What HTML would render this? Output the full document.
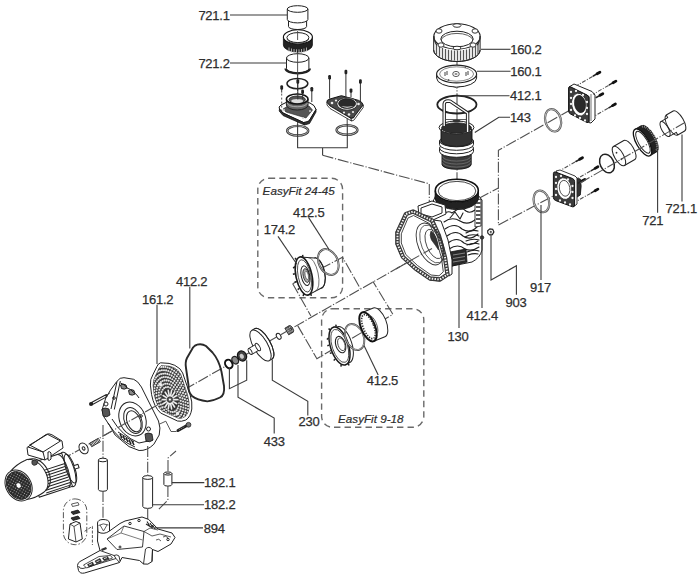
<!DOCTYPE html>
<html><head><meta charset="utf-8">
<style>
html,body{margin:0;padding:0;background:#fff;width:700px;height:582px;overflow:hidden}
svg{display:block}
.t{font-family:"Liberation Sans",sans-serif;font-size:13px;fill:#2e2e2e;stroke:#2e2e2e;stroke-width:0.25px;letter-spacing:-0.25px}
.it{font-family:"Liberation Sans",sans-serif;font-size:11.7px;font-style:italic;fill:#2e2e2e;stroke:#2e2e2e;stroke-width:0.2px}
.ld{fill:none;stroke:#3a3a3a;stroke-width:1.1}
.dd{fill:none;stroke:#505050;stroke-width:1.1;stroke-dasharray:11 1.8 1.2 1.8}
.bx{fill:none;stroke:#6a6a6a;stroke-width:1.4;stroke-dasharray:6.4 4.1}
.p{fill:#fff;stroke:#222;stroke-width:1}
.pn{fill:none;stroke:#222;stroke-width:1}
.dk{fill:#333;stroke:#111;stroke-width:0.8}
</style></head>
<body>
<svg width="700" height="582" viewBox="0 0 700 582">
<!-- LABELS -->
<g id="labels">
<text class="t" x="198.4" y="20">721.1</text>
<text class="t" x="198.4" y="68">721.2</text>
<text class="t" x="510.2" y="53.8">160.2</text>
<text class="t" x="510.2" y="76.3">160.1</text>
<text class="t" x="510.1" y="99.8">412.1</text>
<text class="t" x="509.9" y="122">143</text>
<text class="t" x="665.6" y="212.7">721.1</text>
<text class="t" x="642.3" y="224.5">721</text>
<text class="t" x="530" y="292">917</text>
<text class="t" x="505.5" y="306.7">903</text>
<text class="t" x="466.6" y="320">412.4</text>
<text class="t" x="447.6" y="340.6">130</text>
<text class="t" x="176" y="286">412.2</text>
<text class="t" x="142" y="303.5">161.2</text>
<text class="t" x="293.1" y="217.4">412.5</text>
<text class="t" x="263.8" y="234.2">174.2</text>
<text class="t" x="366.8" y="384.8">412.5</text>
<text class="t" x="298.6" y="426">230</text>
<text class="t" x="263.8" y="446">433</text>
<text class="t" x="204.1" y="487">182.1</text>
<text class="t" x="204.1" y="508.5">182.2</text>
<text class="t" x="203.7" y="532.7">894</text>
<text class="it" x="262.6" y="195.3">EasyFit 24-45</text>
<text class="it" x="338" y="423.3">EasyFit 9-18</text>
</g>
<!-- EasyFit boxes -->
<rect class="bx" x="257.8" y="178.3" width="84.8" height="119.5" rx="11"/>
<rect class="bx" x="321.6" y="308.7" width="102.2" height="118.6" rx="11"/>

<!-- AXES dash-dot -->
<g id="axes" class="dd">
<path d="M20 483.5L420 255.2"/>
<path d="M322.6 155.3L429.3 183.8V215"/>
<path d="M571 109.6L498.4 150.3V225L560 192.4"/>
<path d="M478.6 198.4L498.4 188.1"/>
<path d="M292.7 283.7L342.5 257.2L360.3 288.5M292.7 283.7L310.9 316"/>
<path d="M297.7 325.6L316.9 358.7L392.9 314.3L372.9 281.4"/>
<path d="M297.6 27V124M347.2 118V124" style="stroke-dasharray:30 1.5 1 1.5"/>
<path d="M457 30V180"/>
</g>

<defs>
<pattern id="grid" width="2.6" height="2.6" patternUnits="userSpaceOnUse" patternTransform="rotate(-30)">
<rect width="2.6" height="2.6" fill="#252525"/><rect x="0.7" y="0.7" width="1.1" height="1.1" fill="#aaa"/>
</pattern>
<pattern id="grid2" width="3.2" height="3.2" patternUnits="userSpaceOnUse" patternTransform="rotate(25)">
<rect width="3.2" height="3.2" fill="#333"/><rect x="0.7" y="0.7" width="1.7" height="1.7" fill="#ddd"/>
</pattern>
<pattern id="knurl" width="2" height="4" patternUnits="userSpaceOnUse">
<rect width="2" height="4" fill="#222"/><rect x="1.2" width="0.6" height="4" fill="#888"/>
</pattern>
<pattern id="dots" width="3" height="3" patternUnits="userSpaceOnUse">
<rect width="3" height="3" fill="#444"/><circle cx="1.5" cy="1.5" r="0.7" fill="#ccc"/>
</pattern>
</defs>
<!-- MOTOR -->
<g id="motor" stroke-linejoin="round">
 <g transform="translate(18.6,485.5) rotate(-18)">
  <ellipse class="p" cx="52" cy="0" rx="6" ry="18"/>
  <path class="p" d="M16 -17.5 H51 V17.5 H16 Z"/>
  <path class="pn" d="M23 -1H50M23 1.8H50M23 4.6H50M23 7.4H50M23 10.2H50M23 13H50M24 15.6H50M25 -3.8H50M27 -6.6H50" stroke-width="0.75"/>
  <path class="pn" d="M47 -17 A5 17 0 0 1 47 17"/>
  <ellipse class="pn" cx="54.5" cy="0" rx="4.5" ry="15"/>
  <path class="p" d="M58.5 -1.8 H63 V1.8 H58.5Z"/>
 </g>
 <g transform="translate(18.6,485.5) rotate(-30)">
  <path class="p" d="M0 -16.3 Q9 -19.5 18 -18.5 A12 18.5 0 0 1 18 18.5 Q9 19.5 0 16.3 Z"/>
  <path class="pn" d="M21 -17.5 A12 17.5 0 0 1 21 17.5"/>
  <ellipse class="p" cx="0" cy="0" rx="12.6" ry="16.3"/>
  <ellipse cx="0" cy="0" rx="11.4" ry="14.8" fill="url(#grid)" stroke="#222" stroke-width="0.8"/>
  <ellipse cx="0" cy="0" rx="2.4" ry="3" fill="#fff" stroke="#222" stroke-width="0.7"/>
 </g>
 <path class="p" d="M27 447.5 L46 434.5 Q49 433 52 434.8 L62 441 L63 448 L45 460 L28 455 Z"/>
 <path class="pn" d="M29.5 445 L47.5 434.3 L60.5 441 L43 452 Z"/>
 <path class="pn" d="M43 452 L45 460 M28 447 L43 452"/>
 <path class="p" d="M48 452 q2 -1 3 1 v6 q-1 2 -3 1z"/>
 <path d="M32 461 q3 -2.5 5.5 0.5 q0.5 3.5 -3 3.8 q-3.2 0 -2.5 -4.3z" fill="#555" stroke="#222" stroke-width="0.8"/>
</g>

<!-- WASHER SPRING -->
<g id="washer">
 <ellipse class="p" cx="83.6" cy="448.4" rx="4.2" ry="5.8" transform="rotate(-30 83.6 448.4)"/>
 <ellipse class="p" cx="83.6" cy="448.4" rx="1.3" ry="1.8" transform="rotate(-30 83.6 448.4)"/>
 <g transform="translate(95,442.5) rotate(-30)">
  <rect x="-5" y="-2" width="10" height="4" fill="#fff" stroke="#222" stroke-width="0.8"/>
  <path d="M-4 -2V2M-2.5 -2V2M-1 -2V2M0.5 -2V2M2 -2V2M3.5 -2V2" stroke="#333" stroke-width="0.8"/>
 </g>
</g>
<!-- LANTERN -->
<g id="lantern" stroke-linejoin="round">
 <path class="p" d="M116.7 381.6 Q120 377 124 377.7 L133.7 379.3 Q138 381 141.4 387 L148.4 401 L158.5 421 Q161 428 159.2 435 L153.8 444.3 Q147 451 139.1 450.5 L129 446.6 L115.1 435 L109.7 425.7 L104 417 L102 410 L105.8 397.9 L110.5 390.1 Z"/>
 <path class="pn" d="M117 381.5 L111 409 M120.3 381 L114.3 409.5"/>
 <path d="M120.5 385 q2.5 -2 5.5 0 l1 3 q-2.5 2 -5.5 0.5z M128.5 390.5 q2.5 -2 5.5 0 l1 3.5 q-2.5 2 -5.5 0.5z" fill="#888" stroke="#111" stroke-width="0.9"/>
 <path class="pn" d="M108 423 Q118 440 135 447 M112 419 Q122 436 139 443 L153 440"/>
 <path class="pn" d="M120.5 383 Q126 385 127 388 Q131 389 133 392 Q137 394 139 398"/>
 <ellipse class="p" cx="132.5" cy="419" rx="13" ry="17.5" transform="rotate(-22 132.5 419)"/>
 <ellipse class="p" cx="133" cy="420.5" rx="8.5" ry="13.5" transform="rotate(-22 133 420.5)"/>
 <ellipse class="pn" cx="133.8" cy="421.3" rx="6.6" ry="11" transform="rotate(-22 133.8 421.3)"/>
 <!-- slots bottom -->
 <path d="M120 434l2 4M123 436l2 4M126 438l2 4M129 440l2 4M132 441l2 4" stroke="#222" stroke-width="1.6"/>
 <path class="pn" d="M118 432 L134 442"/>
 <!-- feet -->
 <path d="M102 409 q3 -2 7 0 l1 6 q-3 3 -7 1 z" fill="#555" stroke="#111" stroke-width="0.8"/>
 <circle cx="106" cy="404" r="2" class="p"/>
 <path d="M145 434 q3 -2 7 0 l1 6 q-3 3 -7 1 z" fill="#555" stroke="#111" stroke-width="0.8"/>
 <circle cx="148.5" cy="429" r="2" class="p"/>
 <circle cx="114" cy="398" r="1.3" class="pn"/>
 <circle cx="141" cy="416" r="1.3" class="pn"/>
</g>
<!-- screws lantern -->
<g id="lscrews">
 <path d="M92 403.5 L106 395.8" stroke="#222" stroke-width="3.2" stroke-linecap="round"/>
 <path d="M93 403 L105.5 396.2" stroke="#fff" stroke-width="1.2"/>
 <path d="M106 395.8 L110 392.8" stroke="#333" stroke-width="0.9"/>
 <circle cx="91" cy="404" r="2" fill="#222"/>
 <path d="M178 430.5 L186.5 425.8" stroke="#222" stroke-width="3" stroke-linecap="round"/>
 <path d="M179 430 l1 -1.2 M181 429 l1 -1.2 M183 427.8 l1 -1.2" stroke="#999" stroke-width="0.7"/>
 <circle cx="188.5" cy="424.8" r="2.4" fill="#777" stroke="#222" stroke-width="0.8"/>
 <path d="M176.6 431.5 L171 431.5 L165.8 421.2 L159 424.3" fill="none" stroke="#444" stroke-width="0.9"/>
</g>
<!-- FAN 161.2 -->
<g id="fan" stroke-linejoin="round">
 <clipPath id="fanclip"><path d="M161 365.8 L169 366.2 Q174 367 178 370.5 Q181 373.5 182.5 380 L187.5 395 Q189.5 402 189 408.5 Q188 414.5 184.5 417 Q181 418.8 178 418 L162 410.8 Q156.5 405.5 154.2 394 L153.2 385.5 Q153 380 155.5 376 L159 368.5 Z"/></clipPath>
 <path d="M160.6 362.8 L169.1 363.4 Q175 364.5 179.9 368.8 Q183 372 184.7 379.1 L190.1 394.7 Q192.5 402 191.8 409 Q190.5 417 185.9 420 Q181 422 177.5 421 L160.6 413 Q154 407 151.6 394.7 L150.4 385.1 Q150 379 152.8 374.9 L157 366.4 Q158 363.5 160.6 362.8 Z" fill="#fff" stroke="#222" stroke-width="1"/>
 <path d="M161 365.8 L169 366.2 Q174 367 178 370.5 Q181 373.5 182.5 380 L187.5 395 Q189.5 402 189 408.5 Q188 414.5 184.5 417 Q181 418.8 178 418 L162 410.8 Q156.5 405.5 154.2 394 L153.2 385.5 Q153 380 155.5 376 L159 368.5 Z" fill="#3c3c3c" stroke="#222" stroke-width="0.8"/>
 <g clip-path="url(#fanclip)" fill="#e8e8e8"><circle cx="177.5" cy="396.8" r="1.05"/><circle cx="178.3" cy="400.0" r="1.05"/><circle cx="178.7" cy="403.1" r="1.05"/><circle cx="178.5" cy="406.0" r="1.05"/><circle cx="177.7" cy="408.4" r="1.05"/><circle cx="176.5" cy="410.4" r="1.05"/><circle cx="174.8" cy="411.6" r="1.05"/><circle cx="172.8" cy="412.1" r="1.05"/><circle cx="170.7" cy="411.8" r="1.05"/><circle cx="168.5" cy="410.8" r="1.05"/><circle cx="166.4" cy="409.0" r="1.05"/><circle cx="164.5" cy="406.7" r="1.05"/><circle cx="162.9" cy="403.9" r="1.05"/><circle cx="161.8" cy="400.8" r="1.05"/><circle cx="161.2" cy="397.7" r="1.05"/><circle cx="161.2" cy="394.6" r="1.05"/><circle cx="161.6" cy="391.9" r="1.05"/><circle cx="162.7" cy="389.7" r="1.05"/><circle cx="164.1" cy="388.1" r="1.05"/><circle cx="165.9" cy="387.2" r="1.05"/><circle cx="168.0" cy="387.1" r="1.05"/><circle cx="170.2" cy="387.8" r="1.05"/><circle cx="172.4" cy="389.2" r="1.05"/><circle cx="174.4" cy="391.3" r="1.05"/><circle cx="176.1" cy="393.9" r="1.05"/><circle cx="180.0" cy="397.6" r="1.05"/><circle cx="180.7" cy="400.8" r="1.05"/><circle cx="181.0" cy="403.8" r="1.05"/><circle cx="180.9" cy="406.7" r="1.05"/><circle cx="180.4" cy="409.4" r="1.05"/><circle cx="179.4" cy="411.6" r="1.05"/><circle cx="178.1" cy="413.4" r="1.05"/><circle cx="176.5" cy="414.7" r="1.05"/><circle cx="174.6" cy="415.4" r="1.05"/><circle cx="172.5" cy="415.5" r="1.05"/><circle cx="170.3" cy="414.9" r="1.05"/><circle cx="168.2" cy="413.8" r="1.05"/><circle cx="166.0" cy="412.1" r="1.05"/><circle cx="164.1" cy="410.0" r="1.05"/><circle cx="162.3" cy="407.4" r="1.05"/><circle cx="160.9" cy="404.6" r="1.05"/><circle cx="159.8" cy="401.6" r="1.05"/><circle cx="159.1" cy="398.4" r="1.05"/><circle cx="158.8" cy="395.4" r="1.05"/><circle cx="158.9" cy="392.5" r="1.05"/><circle cx="159.4" cy="389.8" r="1.05"/><circle cx="160.4" cy="387.6" r="1.05"/><circle cx="161.7" cy="385.8" r="1.05"/><circle cx="163.3" cy="384.5" r="1.05"/><circle cx="165.2" cy="383.8" r="1.05"/><circle cx="167.3" cy="383.7" r="1.05"/><circle cx="169.5" cy="384.3" r="1.05"/><circle cx="171.6" cy="385.4" r="1.05"/><circle cx="173.8" cy="387.1" r="1.05"/><circle cx="175.7" cy="389.2" r="1.05"/><circle cx="177.5" cy="391.8" r="1.05"/><circle cx="178.9" cy="394.6" r="1.05"/><circle cx="181.6" cy="395.4" r="1.05"/><circle cx="182.5" cy="398.4" r="1.05"/><circle cx="183.1" cy="401.5" r="1.05"/><circle cx="183.4" cy="404.6" r="1.05"/><circle cx="183.3" cy="407.5" r="1.05"/><circle cx="182.9" cy="410.2" r="1.05"/><circle cx="182.1" cy="412.7" r="1.05"/><circle cx="181.1" cy="414.8" r="1.05"/><circle cx="179.7" cy="416.5" r="1.05"/><circle cx="178.1" cy="417.7" r="1.05"/><circle cx="176.3" cy="418.5" r="1.05"/><circle cx="174.3" cy="418.9" r="1.05"/><circle cx="172.2" cy="418.7" r="1.05"/><circle cx="170.0" cy="418.0" r="1.05"/><circle cx="167.8" cy="416.8" r="1.05"/><circle cx="165.7" cy="415.2" r="1.05"/><circle cx="163.7" cy="413.2" r="1.05"/><circle cx="161.9" cy="410.9" r="1.05"/><circle cx="160.2" cy="408.2" r="1.05"/><circle cx="158.8" cy="405.3" r="1.05"/><circle cx="157.7" cy="402.3" r="1.05"/><circle cx="156.9" cy="399.2" r="1.05"/><circle cx="156.5" cy="396.1" r="1.05"/><circle cx="156.4" cy="393.1" r="1.05"/><circle cx="156.6" cy="390.3" r="1.05"/><circle cx="157.2" cy="387.7" r="1.05"/><circle cx="158.1" cy="385.4" r="1.05"/><circle cx="159.4" cy="383.5" r="1.05"/><circle cx="160.9" cy="382.0" r="1.05"/><circle cx="162.6" cy="381.0" r="1.05"/><circle cx="164.5" cy="380.4" r="1.05"/><circle cx="166.6" cy="380.4" r="1.05"/><circle cx="168.7" cy="380.8" r="1.05"/><circle cx="170.9" cy="381.7" r="1.05"/><circle cx="173.0" cy="383.1" r="1.05"/><circle cx="175.1" cy="384.9" r="1.05"/><circle cx="177.0" cy="387.1" r="1.05"/><circle cx="178.8" cy="389.6" r="1.05"/><circle cx="180.3" cy="392.4" r="1.05"/><circle cx="184.1" cy="396.1" r="1.05"/><circle cx="184.9" cy="399.2" r="1.05"/><circle cx="185.5" cy="402.3" r="1.05"/><circle cx="185.8" cy="405.3" r="1.05"/><circle cx="185.7" cy="408.3" r="1.05"/><circle cx="185.4" cy="411.0" r="1.05"/><circle cx="184.8" cy="413.6" r="1.05"/><circle cx="183.9" cy="415.9" r="1.05"/><circle cx="182.7" cy="417.9" r="1.05"/><circle cx="181.3" cy="419.5" r="1.05"/><circle cx="179.7" cy="420.8" r="1.05"/><circle cx="177.9" cy="421.7" r="1.05"/><circle cx="176.0" cy="422.2" r="1.05"/><circle cx="173.9" cy="422.2" r="1.05"/><circle cx="171.8" cy="421.8" r="1.05"/><circle cx="169.7" cy="421.1" r="1.05"/><circle cx="167.5" cy="419.9" r="1.05"/><circle cx="165.4" cy="418.3" r="1.05"/><circle cx="163.3" cy="416.4" r="1.05"/><circle cx="161.4" cy="414.2" r="1.05"/><circle cx="159.7" cy="411.7" r="1.05"/><circle cx="158.1" cy="409.0" r="1.05"/><circle cx="156.8" cy="406.1" r="1.05"/><circle cx="155.7" cy="403.1" r="1.05"/><circle cx="154.9" cy="400.0" r="1.05"/><circle cx="154.3" cy="396.9" r="1.05"/><circle cx="154.0" cy="393.9" r="1.05"/><circle cx="154.1" cy="390.9" r="1.05"/><circle cx="154.4" cy="388.2" r="1.05"/><circle cx="155.0" cy="385.6" r="1.05"/><circle cx="155.9" cy="383.3" r="1.05"/><circle cx="157.1" cy="381.3" r="1.05"/><circle cx="158.5" cy="379.7" r="1.05"/><circle cx="160.1" cy="378.4" r="1.05"/><circle cx="161.9" cy="377.5" r="1.05"/><circle cx="163.8" cy="377.0" r="1.05"/><circle cx="165.9" cy="377.0" r="1.05"/><circle cx="168.0" cy="377.4" r="1.05"/><circle cx="170.1" cy="378.1" r="1.05"/><circle cx="172.3" cy="379.3" r="1.05"/><circle cx="174.4" cy="380.9" r="1.05"/><circle cx="176.5" cy="382.8" r="1.05"/><circle cx="178.4" cy="385.0" r="1.05"/><circle cx="180.1" cy="387.5" r="1.05"/><circle cx="181.7" cy="390.2" r="1.05"/><circle cx="183.0" cy="393.1" r="1.05"/><circle cx="185.6" cy="393.9" r="1.05"/><circle cx="186.6" cy="396.9" r="1.05"/><circle cx="187.4" cy="400.0" r="1.05"/><circle cx="187.9" cy="403.1" r="1.05"/><circle cx="188.1" cy="406.1" r="1.05"/><circle cx="188.1" cy="409.0" r="1.05"/><circle cx="187.8" cy="411.8" r="1.05"/><circle cx="187.3" cy="414.5" r="1.05"/><circle cx="186.6" cy="416.9" r="1.05"/><circle cx="185.6" cy="419.1" r="1.05"/><circle cx="184.4" cy="421.0" r="1.05"/><circle cx="183.0" cy="422.6" r="1.05"/><circle cx="181.4" cy="423.8" r="1.05"/><circle cx="179.6" cy="424.8" r="1.05"/><circle cx="177.7" cy="425.4" r="1.05"/><circle cx="175.7" cy="425.6" r="1.05"/><circle cx="173.6" cy="425.5" r="1.05"/><circle cx="171.5" cy="425.0" r="1.05"/><circle cx="169.3" cy="424.1" r="1.05"/><circle cx="167.2" cy="422.9" r="1.05"/><circle cx="165.0" cy="421.4" r="1.05"/><circle cx="163.0" cy="419.5" r="1.05"/><circle cx="161.1" cy="417.4" r="1.05"/><circle cx="159.2" cy="415.1" r="1.05"/><circle cx="157.6" cy="412.5" r="1.05"/><circle cx="156.1" cy="409.7" r="1.05"/><circle cx="154.7" cy="406.8" r="1.05"/><circle cx="153.7" cy="403.8" r="1.05"/><circle cx="152.8" cy="400.7" r="1.05"/><circle cx="152.2" cy="397.7" r="1.05"/><circle cx="151.8" cy="394.6" r="1.05"/><circle cx="151.7" cy="391.6" r="1.05"/><circle cx="151.8" cy="388.8" r="1.05"/><circle cx="152.2" cy="386.0" r="1.05"/><circle cx="152.8" cy="383.5" r="1.05"/><circle cx="153.7" cy="381.2" r="1.05"/><circle cx="154.8" cy="379.2" r="1.05"/><circle cx="156.1" cy="377.4" r="1.05"/><circle cx="157.6" cy="376.0" r="1.05"/><circle cx="159.3" cy="374.8" r="1.05"/><circle cx="161.1" cy="374.1" r="1.05"/><circle cx="163.1" cy="373.7" r="1.05"/><circle cx="165.1" cy="373.6" r="1.05"/><circle cx="167.3" cy="373.9" r="1.05"/><circle cx="169.4" cy="374.6" r="1.05"/><circle cx="171.6" cy="375.6" r="1.05"/><circle cx="173.7" cy="377.0" r="1.05"/><circle cx="175.8" cy="378.7" r="1.05"/><circle cx="177.8" cy="380.7" r="1.05"/><circle cx="179.7" cy="382.9" r="1.05"/><circle cx="181.4" cy="385.4" r="1.05"/><circle cx="183.0" cy="388.1" r="1.05"/><circle cx="184.4" cy="390.9" r="1.05"/><circle cx="188.2" cy="394.7" r="1.05"/><circle cx="189.1" cy="397.8" r="1.05"/><circle cx="189.8" cy="400.9" r="1.05"/><circle cx="190.2" cy="404.0" r="1.05"/><circle cx="190.5" cy="407.1" r="1.05"/><circle cx="190.5" cy="410.1" r="1.05"/><circle cx="190.2" cy="412.9" r="1.05"/><circle cx="189.8" cy="415.6" r="1.05"/><circle cx="189.1" cy="418.1" r="1.05"/><circle cx="188.2" cy="420.5" r="1.05"/><circle cx="187.1" cy="422.5" r="1.05"/><circle cx="185.7" cy="424.4" r="1.05"/><circle cx="184.3" cy="425.9" r="1.05"/><circle cx="182.6" cy="427.1" r="1.05"/><circle cx="180.8" cy="428.1" r="1.05"/><circle cx="178.9" cy="428.7" r="1.05"/><circle cx="176.9" cy="429.0" r="1.05"/><circle cx="174.8" cy="428.9" r="1.05"/><circle cx="172.6" cy="428.5" r="1.05"/><circle cx="170.4" cy="427.8" r="1.05"/><circle cx="168.2" cy="426.8" r="1.05"/><circle cx="166.0" cy="425.4" r="1.05"/><circle cx="163.9" cy="423.8" r="1.05"/><circle cx="161.9" cy="421.9" r="1.05"/><circle cx="159.9" cy="419.7" r="1.05"/><circle cx="158.0" cy="417.3" r="1.05"/><circle cx="156.3" cy="414.7" r="1.05"/><circle cx="154.7" cy="412.0" r="1.05"/><circle cx="153.3" cy="409.1" r="1.05"/><circle cx="152.1" cy="406.1" r="1.05"/><circle cx="151.1" cy="403.0" r="1.05"/><circle cx="150.3" cy="399.9" r="1.05"/><circle cx="149.8" cy="396.7" r="1.05"/><circle cx="149.4" cy="393.6" r="1.05"/><circle cx="149.3" cy="390.6" r="1.05"/><circle cx="149.4" cy="387.7" r="1.05"/><circle cx="149.8" cy="384.9" r="1.05"/><circle cx="150.3" cy="382.3" r="1.05"/><circle cx="151.2" cy="379.9" r="1.05"/><circle cx="152.2" cy="377.7" r="1.05"/><circle cx="153.4" cy="375.7" r="1.05"/><circle cx="154.8" cy="374.0" r="1.05"/><circle cx="156.4" cy="372.6" r="1.05"/><circle cx="158.1" cy="371.5" r="1.05"/><circle cx="159.9" cy="370.8" r="1.05"/><circle cx="161.9" cy="370.3" r="1.05"/><circle cx="164.0" cy="370.2" r="1.05"/><circle cx="166.1" cy="370.4" r="1.05"/><circle cx="168.3" cy="371.0" r="1.05"/><circle cx="170.5" cy="371.9" r="1.05"/><circle cx="172.7" cy="373.1" r="1.05"/><circle cx="174.8" cy="374.6" r="1.05"/><circle cx="176.9" cy="376.3" r="1.05"/><circle cx="178.9" cy="378.4" r="1.05"/><circle cx="180.9" cy="380.6" r="1.05"/><circle cx="182.7" cy="383.1" r="1.05"/><circle cx="184.3" cy="385.8" r="1.05"/><circle cx="185.8" cy="388.7" r="1.05"/><circle cx="187.1" cy="391.6" r="1.05"/><circle cx="189.7" cy="392.4" r="1.05"/><circle cx="190.7" cy="395.5" r="1.05"/><circle cx="191.6" cy="398.6" r="1.05"/><circle cx="192.2" cy="401.7" r="1.05"/><circle cx="192.6" cy="404.8" r="1.05"/><circle cx="192.8" cy="407.8" r="1.05"/><circle cx="192.9" cy="410.8" r="1.05"/><circle cx="192.7" cy="413.7" r="1.05"/><circle cx="192.3" cy="416.4" r="1.05"/><circle cx="191.7" cy="419.0" r="1.05"/><circle cx="190.9" cy="421.4" r="1.05"/><circle cx="189.9" cy="423.7" r="1.05"/><circle cx="188.7" cy="425.7" r="1.05"/><circle cx="187.4" cy="427.4" r="1.05"/><circle cx="185.9" cy="428.9" r="1.05"/><circle cx="184.2" cy="430.2" r="1.05"/><circle cx="182.5" cy="431.2" r="1.05"/><circle cx="180.6" cy="431.9" r="1.05"/><circle cx="178.6" cy="432.3" r="1.05"/><circle cx="176.5" cy="432.3" r="1.05"/><circle cx="174.4" cy="432.2" r="1.05"/><circle cx="172.2" cy="431.7" r="1.05"/><circle cx="170.1" cy="430.9" r="1.05"/><circle cx="167.9" cy="429.8" r="1.05"/><circle cx="165.7" cy="428.5" r="1.05"/><circle cx="163.6" cy="426.9" r="1.05"/><circle cx="161.5" cy="425.0" r="1.05"/><circle cx="159.5" cy="422.9" r="1.05"/><circle cx="157.6" cy="420.6" r="1.05"/><circle cx="155.8" cy="418.2" r="1.05"/><circle cx="154.2" cy="415.5" r="1.05"/><circle cx="152.6" cy="412.7" r="1.05"/><circle cx="151.3" cy="409.8" r="1.05"/><circle cx="150.1" cy="406.8" r="1.05"/><circle cx="149.1" cy="403.7" r="1.05"/><circle cx="148.2" cy="400.6" r="1.05"/><circle cx="147.6" cy="397.5" r="1.05"/><circle cx="147.2" cy="394.4" r="1.05"/><circle cx="147.0" cy="391.4" r="1.05"/><circle cx="146.9" cy="388.4" r="1.05"/><circle cx="147.1" cy="385.5" r="1.05"/><circle cx="147.5" cy="382.8" r="1.05"/><circle cx="148.1" cy="380.2" r="1.05"/><circle cx="148.9" cy="377.8" r="1.05"/><circle cx="149.9" cy="375.5" r="1.05"/><circle cx="151.1" cy="373.5" r="1.05"/><circle cx="152.4" cy="371.8" r="1.05"/><circle cx="153.9" cy="370.3" r="1.05"/><circle cx="155.6" cy="369.0" r="1.05"/><circle cx="157.3" cy="368.0" r="1.05"/><circle cx="159.2" cy="367.3" r="1.05"/><circle cx="161.2" cy="366.9" r="1.05"/><circle cx="163.3" cy="366.9" r="1.05"/><circle cx="165.4" cy="367.0" r="1.05"/><circle cx="167.6" cy="367.5" r="1.05"/><circle cx="169.7" cy="368.3" r="1.05"/><circle cx="171.9" cy="369.4" r="1.05"/><circle cx="174.1" cy="370.7" r="1.05"/><circle cx="176.2" cy="372.3" r="1.05"/><circle cx="178.3" cy="374.2" r="1.05"/><circle cx="180.3" cy="376.3" r="1.05"/><circle cx="182.2" cy="378.6" r="1.05"/><circle cx="184.0" cy="381.0" r="1.05"/><circle cx="185.6" cy="383.7" r="1.05"/><circle cx="187.2" cy="386.5" r="1.05"/><circle cx="188.5" cy="389.4" r="1.05"/><circle cx="192.3" cy="393.2" r="1.05"/><circle cx="193.2" cy="396.3" r="1.05"/><circle cx="194.0" cy="399.4" r="1.05"/><circle cx="194.6" cy="402.5" r="1.05"/><circle cx="195.0" cy="405.5" r="1.05"/><circle cx="195.2" cy="408.6" r="1.05"/><circle cx="195.2" cy="411.6" r="1.05"/><circle cx="195.1" cy="414.4" r="1.05"/><circle cx="194.7" cy="417.2" r="1.05"/><circle cx="194.2" cy="419.9" r="1.05"/><circle cx="193.5" cy="422.4" r="1.05"/><circle cx="192.6" cy="424.7" r="1.05"/><circle cx="191.6" cy="426.8" r="1.05"/><circle cx="190.4" cy="428.8" r="1.05"/><circle cx="189.0" cy="430.5" r="1.05"/><circle cx="187.5" cy="432.0" r="1.05"/><circle cx="185.9" cy="433.2" r="1.05"/><circle cx="184.1" cy="434.3" r="1.05"/><circle cx="182.3" cy="435.0" r="1.05"/><circle cx="180.3" cy="435.5" r="1.05"/><circle cx="178.3" cy="435.7" r="1.05"/><circle cx="176.2" cy="435.7" r="1.05"/><circle cx="174.1" cy="435.4" r="1.05"/><circle cx="171.9" cy="434.8" r="1.05"/><circle cx="169.7" cy="433.9" r="1.05"/><circle cx="167.5" cy="432.8" r="1.05"/><circle cx="165.4" cy="431.5" r="1.05"/><circle cx="163.3" cy="429.9" r="1.05"/><circle cx="161.2" cy="428.1" r="1.05"/><circle cx="159.2" cy="426.1" r="1.05"/><circle cx="157.2" cy="423.9" r="1.05"/><circle cx="155.4" cy="421.5" r="1.05"/><circle cx="153.7" cy="419.0" r="1.05"/><circle cx="152.1" cy="416.3" r="1.05"/><circle cx="150.6" cy="413.5" r="1.05"/><circle cx="149.2" cy="410.6" r="1.05"/><circle cx="148.1" cy="407.6" r="1.05"/><circle cx="147.0" cy="404.5" r="1.05"/><circle cx="146.2" cy="401.4" r="1.05"/><circle cx="145.5" cy="398.3" r="1.05"/><circle cx="145.0" cy="395.2" r="1.05"/><circle cx="144.7" cy="392.1" r="1.05"/><circle cx="144.6" cy="389.1" r="1.05"/><circle cx="144.6" cy="386.2" r="1.05"/><circle cx="144.9" cy="383.3" r="1.05"/><circle cx="145.3" cy="380.6" r="1.05"/><circle cx="145.9" cy="378.1" r="1.05"/><circle cx="146.7" cy="375.6" r="1.05"/><circle cx="147.7" cy="373.4" r="1.05"/><circle cx="148.8" cy="371.4" r="1.05"/><circle cx="150.1" cy="369.5" r="1.05"/><circle cx="151.5" cy="367.9" r="1.05"/><circle cx="153.1" cy="366.6" r="1.05"/><circle cx="154.8" cy="365.4" r="1.05"/><circle cx="156.6" cy="364.5" r="1.05"/><circle cx="158.5" cy="363.9" r="1.05"/><circle cx="160.5" cy="363.6" r="1.05"/><circle cx="162.6" cy="363.5" r="1.05"/><circle cx="164.7" cy="363.7" r="1.05"/><circle cx="166.8" cy="364.1" r="1.05"/><circle cx="169.0" cy="364.8" r="1.05"/><circle cx="171.2" cy="365.8" r="1.05"/><circle cx="173.3" cy="367.0" r="1.05"/><circle cx="175.5" cy="368.5" r="1.05"/><circle cx="177.6" cy="370.1" r="1.05"/><circle cx="179.6" cy="372.0" r="1.05"/><circle cx="181.6" cy="374.2" r="1.05"/><circle cx="183.5" cy="376.5" r="1.05"/><circle cx="185.3" cy="378.9" r="1.05"/><circle cx="187.0" cy="381.6" r="1.05"/><circle cx="188.5" cy="384.3" r="1.05"/><circle cx="189.9" cy="387.2" r="1.05"/><circle cx="191.2" cy="390.1" r="1.05"/><circle cx="193.8" cy="390.9" r="1.05"/><circle cx="194.8" cy="394.0" r="1.05"/><circle cx="195.7" cy="397.0" r="1.05"/><circle cx="196.4" cy="400.1" r="1.05"/><circle cx="197.0" cy="403.2" r="1.05"/><circle cx="197.3" cy="406.3" r="1.05"/><circle cx="197.5" cy="409.3" r="1.05"/><circle cx="197.6" cy="412.3" r="1.05"/><circle cx="197.5" cy="415.2" r="1.05"/><circle cx="197.2" cy="418.0" r="1.05"/><circle cx="196.7" cy="420.7" r="1.05"/><circle cx="196.1" cy="423.3" r="1.05"/><circle cx="195.3" cy="425.7" r="1.05"/><circle cx="194.3" cy="427.9" r="1.05"/><circle cx="193.2" cy="430.0" r="1.05"/><circle cx="192.0" cy="431.9" r="1.05"/><circle cx="190.6" cy="433.6" r="1.05"/><circle cx="189.1" cy="435.0" r="1.05"/><circle cx="187.5" cy="436.3" r="1.05"/><circle cx="185.8" cy="437.3" r="1.05"/><circle cx="183.9" cy="438.1" r="1.05"/><circle cx="182.0" cy="438.7" r="1.05"/><circle cx="180.0" cy="439.0" r="1.05"/><circle cx="178.0" cy="439.1" r="1.05"/><circle cx="175.9" cy="438.9" r="1.05"/><circle cx="173.7" cy="438.5" r="1.05"/><circle cx="171.5" cy="437.9" r="1.05"/><circle cx="169.4" cy="437.0" r="1.05"/><circle cx="167.2" cy="435.9" r="1.05"/><circle cx="165.0" cy="434.5" r="1.05"/><circle cx="162.9" cy="433.0" r="1.05"/><circle cx="160.8" cy="431.2" r="1.05"/><circle cx="158.8" cy="429.3" r="1.05"/><circle cx="156.9" cy="427.1" r="1.05"/><circle cx="155.0" cy="424.8" r="1.05"/><circle cx="153.2" cy="422.4" r="1.05"/><circle cx="151.5" cy="419.8" r="1.05"/><circle cx="149.9" cy="417.0" r="1.05"/><circle cx="148.5" cy="414.2" r="1.05"/><circle cx="147.2" cy="411.3" r="1.05"/><circle cx="146.0" cy="408.3" r="1.05"/><circle cx="145.0" cy="405.2" r="1.05"/><circle cx="144.1" cy="402.2" r="1.05"/><circle cx="143.4" cy="399.1" r="1.05"/><circle cx="142.8" cy="396.0" r="1.05"/><circle cx="142.5" cy="392.9" r="1.05"/><circle cx="142.3" cy="389.9" r="1.05"/><circle cx="142.2" cy="386.9" r="1.05"/><circle cx="142.3" cy="384.0" r="1.05"/><circle cx="142.6" cy="381.2" r="1.05"/><circle cx="143.1" cy="378.5" r="1.05"/><circle cx="143.7" cy="375.9" r="1.05"/><circle cx="144.5" cy="373.5" r="1.05"/><circle cx="145.5" cy="371.3" r="1.05"/><circle cx="146.6" cy="369.2" r="1.05"/><circle cx="147.8" cy="367.3" r="1.05"/><circle cx="149.2" cy="365.6" r="1.05"/><circle cx="150.7" cy="364.2" r="1.05"/><circle cx="152.3" cy="362.9" r="1.05"/><circle cx="154.0" cy="361.9" r="1.05"/><circle cx="155.9" cy="361.1" r="1.05"/><circle cx="157.8" cy="360.5" r="1.05"/><circle cx="159.8" cy="360.2" r="1.05"/><circle cx="161.8" cy="360.1" r="1.05"/><circle cx="163.9" cy="360.3" r="1.05"/><circle cx="166.1" cy="360.7" r="1.05"/><circle cx="168.3" cy="361.3" r="1.05"/><circle cx="170.4" cy="362.2" r="1.05"/><circle cx="172.6" cy="363.3" r="1.05"/><circle cx="174.8" cy="364.7" r="1.05"/><circle cx="176.9" cy="366.2" r="1.05"/><circle cx="179.0" cy="368.0" r="1.05"/><circle cx="181.0" cy="369.9" r="1.05"/><circle cx="182.9" cy="372.1" r="1.05"/><circle cx="184.8" cy="374.4" r="1.05"/><circle cx="186.6" cy="376.8" r="1.05"/><circle cx="188.3" cy="379.4" r="1.05"/><circle cx="189.9" cy="382.2" r="1.05"/><circle cx="191.3" cy="385.0" r="1.05"/><circle cx="192.6" cy="387.9" r="1.05"/></g>
 <ellipse cx="169.9" cy="399.6" rx="8.5" ry="10.8" fill="#333" transform="rotate(-20 169.9 399.6)"/>
 <path d="M172.7 399.6L177.5 399.6M172.4 401.1L176.7 403.7M171.6 402.3L174.6 407.0M170.5 403.0L171.6 408.9M169.3 403.0L168.2 408.9M168.2 402.3L165.2 407.0M167.4 401.1L163.1 403.7M167.1 399.6L162.3 399.6M167.4 398.1L163.1 395.5M168.2 396.9L165.2 392.2M169.3 396.2L168.2 390.3M170.5 396.2L171.6 390.3M171.6 396.9L174.6 392.2M172.4 398.1L176.7 395.5" stroke="#eee" stroke-width="1.6" stroke-linecap="round"/>
 <circle cx="169.9" cy="399.6" r="2.8" fill="#555" stroke="#222" stroke-width="0.6"/>
 <circle cx="169.9" cy="399.6" r="1.1" fill="#fff"/>
 <rect x="159" y="383" width="3" height="3" fill="#eee" transform="rotate(-20 160.5 384.5)"/>
 <rect x="176" y="412" width="3" height="3" fill="#eee" transform="rotate(-20 177.5 413.5)"/>
</g>
<!-- GASKET 412.2 -->
<path id="g4122" d="M197 344.7 Q202 343.5 206 346 L212.5 352.5 Q219 360 221.5 371.8 L224 386 Q225 395 220 397.5 Q213 401 207.3 401.4 Q197 400 192 396 Q188 392 188.5 385 L186 368 Q185 362 187 358 L193 347.5 Q195 345 197 344.7 Z" fill="none" stroke="#2a2a2a" stroke-width="1.9"/>

<!-- SEAL 433 -->
<g id="seal">
 <ellipse cx="228.8" cy="364" rx="3.5" ry="4.5" transform="rotate(-30 228.8 364)" fill="#fff" stroke="#111" stroke-width="2"/>
 <ellipse cx="235.2" cy="360.2" rx="3.1" ry="4" transform="rotate(-30 235.2 360.2)" fill="#888" stroke="#222" stroke-width="1.3"/>
 <ellipse cx="242" cy="356" rx="4.4" ry="5.2" transform="rotate(-30 242 356)" fill="#444" stroke="#111" stroke-width="1.2"/>
 <ellipse cx="241.8" cy="356.2" rx="2" ry="2.6" transform="rotate(-30 241.8 356.2)" fill="#ccc"/>
</g>
<!-- IMPELLER 230 -->
<g id="impeller" stroke-linejoin="round">
 <g transform="translate(260.5,345.5) rotate(-30)">
  <path d="M0 -17.5 H3.2 A7 17.5 0 0 1 3.2 17.5 H0 Z" fill="#fff" stroke="#222" stroke-width="1"/>
  <path d="M3.2 -17.5 A7 17.5 0 0 1 3.2 17.5" fill="none" stroke="#222" stroke-width="1"/>
  <path d="M1.6 -16 A6.6 16.5 0 0 1 1.6 16" fill="none" stroke="#777" stroke-width="1.6" stroke-dasharray="1 1.6"/>
  <ellipse cx="0" cy="0" rx="7" ry="17.5" fill="#fff" stroke="#222" stroke-width="1"/>
  <path d="M-12 -3.3 H-3 V3.3 H-12 Z" fill="#fff" stroke="#222" stroke-width="0.9"/>
  <ellipse cx="-3" cy="0" rx="1.8" ry="4.2" fill="#fff" stroke="#222" stroke-width="0.9"/>
  <ellipse cx="-12" cy="0" rx="1.5" ry="3.3" fill="#fff" stroke="#222" stroke-width="0.9"/>
 </g>
 <ellipse cx="278.7" cy="336.3" rx="2.1" ry="3.2" transform="rotate(-30 278.7 336.3)" fill="#fff" stroke="#222" stroke-width="1"/>
 <g transform="translate(289.4,330) rotate(-30)">
  <path d="M-3 -3.8 H2 V3.8 H-3Z" fill="#666" stroke="#222" stroke-width="0.8"/>
  <ellipse cx="2" cy="0" rx="1.8" ry="3.8" fill="#999" stroke="#222" stroke-width="0.8"/>
  <ellipse cx="2" cy="0" rx="0.8" ry="1.8" fill="#333"/>
  <path d="M-3 -2H2M-3 0H2M-3 2H2" stroke="#ccc" stroke-width="0.5"/>
 </g>
</g>
<!-- DIFFUSER 24-45 -->
<g id="diff1" stroke-linejoin="round">
 <g transform="translate(304,276) rotate(-12)">
  <path d="M0 -19.5 L14 -15.5 A7 15.5 0 0 1 14 15.5 L0 19.5 Z" fill="#fff" stroke="#222" stroke-width="1"/>
  <path d="M14 -15.5 A7 15.5 0 0 1 14 15.5" fill="none" stroke="#222" stroke-width="1"/>
  <path d="M8 -17 A6 16 0 0 1 8 17" fill="none" stroke="#444" stroke-width="0.7"/>
  <ellipse cx="0" cy="0" rx="8" ry="19.5" fill="#fff" stroke="#1a1a1a" stroke-width="1.6"/>
  <ellipse cx="0.5" cy="0" rx="6.3" ry="16.5" fill="none" stroke="#333" stroke-width="0.8"/>
  <ellipse cx="1.5" cy="0" rx="4.2" ry="10" fill="#fff" stroke="#222" stroke-width="1"/>
  <ellipse cx="2.2" cy="0" rx="3" ry="7" fill="#aaa" stroke="#222" stroke-width="0.8"/>
  <ellipse cx="2.8" cy="0" rx="1.6" ry="4.2" fill="#fff" stroke="#333" stroke-width="0.6"/>
  <path d="M-7 -11 l-2 1 M-8.5 -4 l-2 0 M-8.5 4 l-2 0 M-7 11 l-2 1 M-4 -17.5 l-1 -2 M-4 17.5 l-1 2 M3 -19 l0 -2 M3 19 l0 2" stroke="#222" stroke-width="1.5"/>
 </g>
 <ellipse cx="328.3" cy="262" rx="9.5" ry="13.5" transform="rotate(-25 328.3 262)" fill="none" stroke="#444" stroke-width="2"/>
 <ellipse cx="328.3" cy="262" rx="9.5" ry="13.5" transform="rotate(-25 328.3 262)" fill="none" stroke="#ddd" stroke-width="0.6"/>
</g>
<!-- DIFFUSER 9-18 -->
<g id="diff2" stroke-linejoin="round">
 <g transform="translate(339.5,346) rotate(-18)">
  <path d="M0 -19.8 L4 -19 A8.6 19 0 0 1 4 19 L0 19.8 Z" fill="#fff" stroke="#222" stroke-width="1"/>
  <ellipse cx="0" cy="0" rx="9" ry="19.8" fill="#fff" stroke="#1a1a1a" stroke-width="1.5"/>
  <ellipse cx="0.3" cy="0" rx="7.6" ry="17.2" fill="none" stroke="#333" stroke-width="0.8"/>
  <ellipse cx="1.5" cy="-1" rx="4.8" ry="8.5" fill="#fff" stroke="#222" stroke-width="1.1"/>
  <ellipse cx="2.3" cy="-1" rx="3.4" ry="6.5" fill="#fff" stroke="#333" stroke-width="0.8"/>
  <path d="M-8 -11 l-2 1 M-9.5 -4 l-2 0 M-9.5 4 l-2 0 M-8 11 l-2 1 M-4 -18 l-1 -2 M-4 18 l-1 2 M3 -19.5 l0 -2 M3 19.5 l0 2" stroke="#222" stroke-width="1.5"/>
 </g>
 <ellipse cx="354.6" cy="337" rx="9" ry="13.5" transform="rotate(-22 354.6 337)" fill="none" stroke="#444" stroke-width="1.9"/>
 <ellipse cx="354.6" cy="337" rx="9" ry="13.5" transform="rotate(-22 354.6 337)" fill="none" stroke="#ddd" stroke-width="0.6"/>
 <g transform="translate(368,326.8) rotate(-22)">
  <path d="M0 -15.5 H12 A7 15.5 0 0 1 12 15.5 H0 Z" fill="#fff" stroke="#222" stroke-width="1"/>
  <ellipse cx="0" cy="0" rx="7" ry="15.5" fill="#fff" stroke="#111" stroke-width="2"/>
  <ellipse cx="0.5" cy="0" rx="5.3" ry="12.8" fill="none" stroke="#333" stroke-width="1.7" stroke-dasharray="1.3 1.3"/>
  <path d="M5 -10 A4 10 0 0 1 5 10" fill="none" stroke="#444" stroke-width="0.8"/>
 </g>
</g>
<!-- PUMP HOUSING 130 -->
<g id="housing" stroke-linejoin="round">
 <!-- body -->
 <path class="p" d="M436 195 L478 195 L482 200 L482 250 Q480 258 472 262 L452 266 L445 276 L430 268 L420 230 Z"/>
 <!-- ribs -->
 <g fill="none" stroke="#1e1e1e" stroke-width="1.1" stroke-linecap="round">
  <path d="M444 214 Q448 210 452 213 L458 209 Q462 207 466 211 Q470 214 475 210"/>
  <path d="M450 218 L455 212 L460 219 L463 213"/>
  <path d="M444 222 Q452 216 460 221 Q468 226 476 219"/>
  <path d="M445 229 Q455 222 462 229 Q470 234 477 227"/>
  <path d="M447 236 Q456 229 463 236 Q470 241 478 234"/>
  <path d="M448 243 Q457 236 464 243 Q471 247 478 241"/>
  <path d="M449 249 Q458 243 465 249 Q472 252 479 247"/>
  <path d="M466 233 Q472 229 478 231 M465 237 Q472 233 479 236 M466 241 Q473 238 479 240 M467 245 Q474 242 479 244 M467 252 Q474 249 479 251 M468 255 Q474 253 478 254"/>
 </g>
 <path d="M450 252 L466 249 L467 262 L452 266 Z" fill="#2a2a2a" stroke="#111" stroke-width="0.8"/>
 <path d="M453 255 L465 253 M453 258.5 L465 256.5 M453 262 L465 260" stroke="#aaa" stroke-width="0.7"/>
 <path d="M475 200 L481 199 L481 226 L475 227 Z" fill="#fff" stroke="#222" stroke-width="0.9"/>
 <path d="M476 203h4.5M476 207h4.5M476 211h4.5M476 215h4.5M476 219h4.5M476 223h4.5" stroke="#222" stroke-width="1.6"/>
 <!-- neck -->
 <path class="p" d="M435.3 190.5 V198 A21.5 11.5 0 0 0 478.3 198 V190.5 Z"/>
 <path d="M435.3 191 V197.5 A21.5 11.5 0 0 0 478.3 197.5 V191 A21.5 11.5 0 0 1 435.3 191 Z" fill="#222" stroke="#111" stroke-width="0.8"/>
 <ellipse cx="456.8" cy="190.5" rx="21.5" ry="11.2" fill="#fff" stroke="#111" stroke-width="1.6"/>
 <ellipse cx="457" cy="191" rx="18.8" ry="9.6" fill="#fff" stroke="#333" stroke-width="0.9"/>
 <!-- side port top left -->
 <path class="p" d="M418 206 L432 201 L445 205 L446 214 L433 220 L419 216 Z"/>
 <path class="pn" d="M421 208 L432 204 L442 207 L442 213 L432 217 L421 214 Z"/>
 <!-- front flange -->
 <path d="M412 211 L433 220 L440 236 L446 258 L449 275 L440 281 L430 280 L415 270 L402 258 L396 244 L396 232 L404 216 Z" fill="#fff" stroke="#222" stroke-width="1"/>
 <path d="M433 220 L441 221 L448 240 L452 260 L452 274 L449 276 L446 258 L440 236 Z" fill="#fff" stroke="#222" stroke-width="1"/>
 <path d="M406 214 L413 211.5 L432 220.5 L439 236 L445 257.5 L447.5 274.5 L440 279.5 L430 278.5 L415.5 268.5 L403 257 L397.5 244 L397.5 232.5 Z" fill="none" stroke="#3a3a3a" stroke-width="4.4"/>
 <path d="M406 214 L413 211.5 L432 220.5 L439 236 L445 257.5 L447.5 274.5 L440 279.5 L430 278.5 L415.5 268.5 L403 257 L397.5 244 L397.5 232.5 Z" fill="none" stroke="#f4f4f4" stroke-width="2" stroke-dasharray="1.5 1.3"/>
 <path d="M408 218 L413.5 215.5 L429.5 223.5 L435.5 237.5 L441.5 258 L443.3 271.8 L439 275.8 L431 275 L417.5 265.5 L405.8 254.5 L401.3 243 L401.3 233.8 Z" fill="none" stroke="#333" stroke-width="0.9"/>
 <ellipse cx="430" cy="244" rx="12" ry="22" transform="rotate(-22 430 244)" fill="none" stroke="#333" stroke-width="0.9"/>
 <ellipse cx="432" cy="244" rx="10.5" ry="20" transform="rotate(-22 432 244)" fill="none" stroke="#333" stroke-width="0.7"/>
 <ellipse cx="434" cy="244" rx="7.5" ry="15.5" transform="rotate(-22 434 244)" fill="none" stroke="#333" stroke-width="0.8"/>
 <path d="M431 231 Q438 236 438.5 250 Q436 246 431.5 240 Q429 235 431 231Z" fill="#333" stroke="#222" stroke-width="0.6"/>
</g>
<!-- 412.4 & 903 -->
<circle cx="482" cy="237.5" r="1.8" fill="#333" stroke="#111" stroke-width="0.6"/>
<g>
 <g transform="translate(-0.6,1.3)"><path d="M488.3 229.5 L490.5 227.6 L493.3 228 L494.5 230.6 L493 233.3 L490.2 233.6 L488.4 231.8 Z" fill="#fff" stroke="#222" stroke-width="1.2"/>
 <circle cx="491.4" cy="230.6" r="1.1" fill="#555"/></g>
</g>

<!-- LID 160.2 -->
<g id="lid" stroke-linejoin="round">
 <path d="M433.7 36.4 V50 A23.2 11.5 0 0 0 480.1 50 V36.4 Z" fill="#fff" stroke="#222" stroke-width="1"/>
 <path d="M436.5 43.9V54.7M439.5 46.3V56.8M442.5 47.9V58.2M445.5 49.0V59.2M448.5 49.7V59.9M451.5 50.3V60.4M454.5 50.5V60.6M457.5 50.6V60.7M460.5 50.4V60.6M463.5 50.1V60.2M466.5 49.5V59.7M469.5 48.6V58.9M472.5 47.3V57.7M475.5 45.5V56.1M478 43.2V54.0" stroke="#555" stroke-width="1.3"/>
 <path d="M433.7 50 A23.2 11.5 0 0 0 480.1 50" fill="none" stroke="#222" stroke-width="1"/>
 <ellipse cx="457" cy="36.4" rx="23.2" ry="12.7" fill="#fff" stroke="#222" stroke-width="1.1"/>
 <ellipse cx="457" cy="39" rx="16.2" ry="7.8" fill="#fff" stroke="#222" stroke-width="1"/>
 <path d="M441 40 A16.2 7.8 0 0 1 473 40" fill="none" stroke="#333" stroke-width="0.8"/>
 <g fill="#fff" stroke="#222" stroke-width="0.9">
  <ellipse cx="439" cy="31" rx="3" ry="2.2"/>
  <ellipse cx="475" cy="31" rx="3" ry="2.2"/>
  <ellipse cx="441" cy="45" rx="3" ry="2.2"/>
  <ellipse cx="473" cy="45" rx="3" ry="2.2"/>
  <ellipse cx="457" cy="25.5" rx="4" ry="1.8"/>
  <ellipse cx="457" cy="48" rx="4" ry="1.8"/>
 </g>
 <path d="M434 36 q0 6 3 9 M480 36 q0 6 -3 9" fill="none" stroke="#333" stroke-width="1.2"/>
</g>
<!-- COVER 160.1 -->
<g id="cover" stroke-linejoin="round">
 <path d="M436.6 74 V78 A20 9 0 0 0 476.6 78 V74 Z" fill="#fff" stroke="#222" stroke-width="1"/>
 <ellipse cx="456.6" cy="74" rx="20" ry="8.9" fill="#fff" stroke="#222" stroke-width="1.1"/>
 <ellipse cx="456.6" cy="74" rx="17" ry="7.2" fill="none" stroke="#555" stroke-width="0.7"/>
 <ellipse cx="456" cy="74" rx="3.3" ry="2.6" fill="#fff" stroke="#333" stroke-width="0.8"/>
 <path d="M454.5 74h3M456 73v2" stroke="#333" stroke-width="0.6"/>
 <path d="M445 72 v4 M447 71 v4 M466 72 v4 M468 71 v4" stroke="#444" stroke-width="1"/>
 <path d="M449 79 l-1 2 M465 68 l1 -2" stroke="#444" stroke-width="1"/>
 <path d="M453 86.5 Q456 89 460 86.5" fill="#ccc" stroke="#333" stroke-width="0.8"/>
</g>
<!-- ORING 412.1 -->
<ellipse cx="456.9" cy="104.6" rx="19.6" ry="8.9" fill="none" stroke="#222" stroke-width="1.8"/>
<!-- BASKET 143 -->
<g id="basket" stroke-linejoin="round">
 <path d="M442 153 V164.5 A14.6 4.8 0 0 0 471.2 164.5 V153 Z" fill="#3a3a3a" stroke="#111" stroke-width="0.9"/>
 <path d="M442.5 156.5 A14.1 4.6 0 0 0 470.7 156.5 M442.5 159.5 A14.1 4.6 0 0 0 470.7 159.5 M442.5 162.5 A14.1 4.6 0 0 0 470.7 162.5" fill="none" stroke="#888" stroke-width="0.6"/>
 <path d="M439.5 148 V151.5 A17 5.8 0 0 0 473.5 151.5 V148 Z" fill="#fff" stroke="#222" stroke-width="1"/>
 <ellipse cx="456.5" cy="148" rx="17" ry="5.8" fill="#fff" stroke="#222" stroke-width="1"/>
 <path d="M439.5 141 V144.5 A17 5.8 0 0 0 473.5 144.5 V141 Z" fill="#fff" stroke="#222" stroke-width="1"/>
 <path d="M441 128 V141 A15.5 5.5 0 0 0 472 141 V128 Z" fill="#333" stroke="#111" stroke-width="0.9"/>
 <path d="M439.5 141 A17 5.8 0 0 0 473.5 141" fill="none" stroke="#222" stroke-width="1"/>
 <path d="M439.5 141 A17 5.8 0 0 1 441.5 138.5 M473.5 141 A17 5.8 0 0 0 471.5 138.5" fill="none" stroke="#222" stroke-width="1"/>
 <ellipse cx="456.5" cy="127.5" rx="17.5" ry="6.5" fill="#fff" stroke="#222" stroke-width="1"/>
 <ellipse cx="456.5" cy="128" rx="15" ry="5.2" fill="#2e2e2e" stroke="#222" stroke-width="0.8"/>
 <path d="M441.5 129 V133 M471.5 129 V133" stroke="#222" stroke-width="1"/>
 <path d="M444.2 126 V104 Q444.5 101 448 101 L450 101.2 L467.6 113 V132" fill="none" stroke="#222" stroke-width="3.4"/>
 <path d="M444.2 126 V104 Q444.5 101 448 101 L450 101.2 L467.6 113 V132" fill="none" stroke="#fff" stroke-width="1.4"/>
 <path d="M446 119.5 H466" stroke="#333" stroke-width="0.8"/>
 <ellipse cx="456.5" cy="121" rx="4" ry="1.3" fill="#333"/>
</g>
<!-- TOP UNION PARTS -->
<g id="topunion" stroke-linejoin="round">
 <!-- 721.1 cap -->
 <path d="M288.5 20.5 V26.5 A9 3 0 0 0 306.6 26.5 V20.5 Z" fill="#fff" stroke="#222" stroke-width="1"/>
 <path d="M287.3 9 V19.5 A10.3 3.4 0 0 0 307.9 19.5 V9 Z" fill="#fff" stroke="#222" stroke-width="1"/>
 <ellipse cx="297.6" cy="9" rx="10.3" ry="3.3" fill="#fff" stroke="#222" stroke-width="1"/>
 <!-- 721 nut -->
 <path d="M283.4 37 V45 A14.5 7 0 0 0 312.4 45 V37 Z" fill="#222" stroke="#111" stroke-width="0.8"/>
 <path d="M289 47.5v4M291.5 48.5v4M294 49v4M296.5 49.3v4M299 49.3v4M301.5 49v4M304 48.5v4M306.5 47.5v4" stroke="#bbb" stroke-width="0.9"/>
 <ellipse cx="297.9" cy="37" rx="14.5" ry="7.2" fill="#fff" stroke="#111" stroke-width="1.1"/>
 <ellipse cx="297.9" cy="37.6" rx="11" ry="5" fill="#fff" stroke="#222" stroke-width="1"/>
 <path d="M287 39 A11 5 0 0 0 308.8 39" fill="none" stroke="#333" stroke-width="0.8"/>
 <!-- 721.2 -->
 <path d="M286.5 58 V68.5 A11.2 4.5 0 0 0 308.9 68.5 V58 Z" fill="#fff" stroke="#222" stroke-width="1"/>
 <path d="M285.5 68.5 A12.2 4.8 0 0 0 309.9 68.5" fill="none" stroke="#222" stroke-width="2.2"/>
 <ellipse cx="297.7" cy="58" rx="11.2" ry="4.3" fill="#fff" stroke="#222" stroke-width="1"/>
 <path d="M297.6 31 V40 M297.6 53 V76" stroke="#444" stroke-width="0.9"/>
 <!-- o-ring -->
 <ellipse cx="297.4" cy="83.6" rx="10.4" ry="5.2" fill="none" stroke="#222" stroke-width="1.5"/>
 <!-- left flange -->
 <path d="M279.5 109 Q278 107 281 105 L292 99.5 L310 103 Q315 105 316 109.5 L309 121 Q307 123.5 303.5 122.5 L283 113 Z" fill="#fff" stroke="#111" stroke-width="1"/>
 <path d="M279.5 109 L283 113 L303.5 122.5 L304.5 125 L283 115.5 L279.2 111 Z" fill="#333" stroke="#111" stroke-width="0.8"/>
 <path d="M303.5 122.5 L309 121 L316 109.5 L316 112 L309.5 123.5 L304.5 125Z" fill="#333" stroke="#111" stroke-width="0.8"/>
 <path d="M283 109 L292 103.5 L309 106 L312.5 110 L306 118 L286 112Z" fill="#555" stroke="#222" stroke-width="0.6"/>
 <path d="M286.4 99 V105 A10.8 5 0 0 0 308 105 V99 Z" fill="#666" stroke="#222" stroke-width="1"/>
 <path d="M287 103 A10.5 4.8 0 0 0 307.5 103" fill="none" stroke="#bbb" stroke-width="0.8"/>
 <ellipse cx="297.2" cy="99" rx="10.8" ry="5" fill="#fff" stroke="#111" stroke-width="1.5"/>
 <ellipse cx="297.2" cy="99.6" rx="8.2" ry="3.6" fill="#555" stroke="#222" stroke-width="0.8"/>
 <ellipse cx="297.2" cy="101" rx="6" ry="2.1" fill="#ddd"/>
 <circle cx="284" cy="110" r="1" fill="#ccc"/><circle cx="303" cy="118" r="1" fill="#ccc"/><circle cx="310" cy="111" r="1" fill="#ccc"/>
 <!-- right flange -->
 <path d="M327 102.5 Q326 100 330 99 L341.4 95.7 L358.6 100.4 Q362.5 102 363.2 105 L355 115.7 Q354 118.8 351 118.4 L330 106 Z" fill="#4a4a4a" stroke="#111" stroke-width="1"/>
 <path d="M327 102.5 L330 106 L351 118.4 L351.5 121 L330 108.5 L327 105 Z" fill="#fff" stroke="#111" stroke-width="0.8"/>
 <path d="M351 118.4 Q354 118.8 355 115.7 L363.2 105 L363.2 107.5 L355.5 118 Q354 121 351.5 121Z" fill="#fff" stroke="#111" stroke-width="0.8"/>
 <ellipse cx="347.1" cy="103.9" rx="10.3" ry="6.3" fill="#fff" stroke="#222" stroke-width="0.9"/>
 <ellipse cx="347.1" cy="103.6" rx="8.6" ry="5" fill="#2a2a2a" stroke="#111" stroke-width="0.6"/>
 <path d="M341 106 Q347 109.5 353.5 106 Q347 107.5 341 106Z" fill="#eee"/>
 <circle cx="332" cy="103" r="1.3" fill="#eee"/>
 <circle cx="358.5" cy="104" r="1.3" fill="#eee"/>
 <circle cx="349" cy="114.5" r="1.3" fill="#eee"/>
 <circle cx="344" cy="112.5" r="1.1" fill="#eee"/>
 <circle cx="353" cy="112" r="1.1" fill="#eee"/>
 <circle cx="336" cy="100.5" r="1.1" fill="#eee"/>
 <!-- gaskets -->
 <ellipse cx="297.7" cy="130.7" rx="10.5" ry="4.8" fill="none" stroke="#333" stroke-width="2.4"/>
 <ellipse cx="297.7" cy="130.7" rx="10.5" ry="4.8" fill="none" stroke="#ccc" stroke-width="0.8"/>
 <ellipse cx="347" cy="130" rx="10.4" ry="4.8" fill="none" stroke="#333" stroke-width="2.4"/>
 <ellipse cx="347" cy="130" rx="10.4" ry="4.8" fill="none" stroke="#ccc" stroke-width="0.8"/>
 <!-- screws (vertical) -->
 <g>
  <path d="M281.7 89.0 V92.6" stroke="#333" stroke-width="1"/>
  <rect x="280.3" y="85.3" width="2.8" height="4.4" rx="1.2" fill="#222"/>
  <path d="M281.7 93.6 V111" stroke="#444" stroke-width="0.9" stroke-dasharray="2 2"/>
  <path d="M297.8 83.0 V99.5" stroke="#333" stroke-width="1"/>
  <rect x="296.40000000000003" y="79.3" width="2.8" height="4.4" rx="1.2" fill="#222"/>
  <path d="M302.6 93.3 V99" stroke="#333" stroke-width="1"/>
  <rect x="301.20000000000005" y="89.6" width="2.8" height="4.4" rx="1.2" fill="#222"/>
  <path d="M311.8 90.7 V102" stroke="#333" stroke-width="1"/>
  <rect x="310.40000000000003" y="87.0" width="2.8" height="4.4" rx="1.2" fill="#222"/>
  <path d="M329.6 78.7 V98.7" stroke="#333" stroke-width="1"/>
  <rect x="328.20000000000005" y="75.0" width="2.8" height="4.4" rx="1.2" fill="#222"/>
  <path d="M345.9 73.5 V99" stroke="#333" stroke-width="1"/>
  <rect x="344.5" y="69.8" width="2.8" height="4.4" rx="1.2" fill="#222"/>
  <path d="M360.4 83.0 V101" stroke="#333" stroke-width="1"/>
  <rect x="359.0" y="79.3" width="2.8" height="4.4" rx="1.2" fill="#222"/>
  <path d="M351 92.1 V97" stroke="#333" stroke-width="1"/>
  <rect x="349.6" y="88.39999999999999" width="2.8" height="4.4" rx="1.2" fill="#222"/>
 </g>
</g>

<!-- RIGHT FLANGES -->
<g id="rflanges" stroke-linejoin="round">
 <!-- upper flange -->
 <path d="M569 87 L574 84 L592 91.5 L595 95 L595 119 L591 123 L589 122.6 L589 96.5 Z" fill="#fff" stroke="#222" stroke-width="1"/>
 <path d="M591 94 L591 121" stroke="#333" stroke-width="0.7"/>
 <path d="M568.6 88 Q568.6 86.5 570.5 86.8 L587 95 Q589 96 589 98 L589 121 Q589 123 587 122.5 L570.5 114 Q568.6 113 568.6 111 Z" fill="#3c3c3c" stroke="#111" stroke-width="1"/>
 <ellipse cx="579.3" cy="104.6" rx="7.6" ry="11.5" transform="rotate(-10 579.3 104.6)" fill="#fff" stroke="#222" stroke-width="0.8"/>
 <ellipse cx="580" cy="104" rx="5.5" ry="8.7" transform="rotate(-10 580 104)" fill="#2a2a2a" stroke="#111" stroke-width="0.6"/>
 <g fill="#f2f2f2"><circle cx="571" cy="92" r="1.15"/><circle cx="571" cy="98" r="1.15"/><circle cx="571" cy="104" r="1.15"/><circle cx="571" cy="110" r="1.15"/><circle cx="575" cy="115.5" r="1.15"/><circle cx="580" cy="118" r="1.15"/><circle cx="585" cy="120.5" r="1.15"/><circle cx="587" cy="114" r="1.15"/><circle cx="587" cy="108" r="1.15"/><circle cx="587" cy="102" r="1.15"/><circle cx="583" cy="95" r="1.15"/><circle cx="576" cy="91" r="1.15"/></g>
 <ellipse cx="553.1" cy="120.3" rx="7.8" ry="11.4" transform="rotate(-15 553.1 120.3)" fill="none" stroke="#555" stroke-width="2.2"/>
 <ellipse cx="553.1" cy="120.3" rx="7.8" ry="11.4" transform="rotate(-15 553.1 120.3)" fill="none" stroke="#eee" stroke-width="0.6"/>
 <!-- lower flange -->
 <path d="M574 177.5 L580.3 179 Q582 185 580.3 195 L574 199 Z" fill="#333" stroke="#111" stroke-width="0.8"/>
 <path d="M556 171 L560 170 L575 176 L577 178 L577 204 L574.6 206 Z" fill="#fff" stroke="#222" stroke-width="0.9"/>
 <path d="M553.4 173.5 Q553.4 171.5 555.5 172 L572.5 178.5 Q574.6 179.5 574.6 181.5 L574.6 205 Q574.6 207.3 572.5 206.8 L555.5 200.5 Q553.4 199.5 553.4 197.5 Z" fill="#3c3c3c" stroke="#111" stroke-width="1"/>
 <ellipse cx="564.3" cy="188.6" rx="7.4" ry="11" transform="rotate(-10 564.3 188.6)" fill="#fff" stroke="#222" stroke-width="0.8"/>
 <ellipse cx="564.6" cy="188.3" rx="5.2" ry="8" transform="rotate(-10 564.6 188.3)" fill="#fff" stroke="#333" stroke-width="0.8"/>
 <g fill="#f2f2f2"><circle cx="556" cy="177" r="1.15"/><circle cx="556" cy="183" r="1.15"/><circle cx="556" cy="189" r="1.15"/><circle cx="556" cy="195" r="1.15"/><circle cx="560" cy="200.5" r="1.15"/><circle cx="565" cy="202.5" r="1.15"/><circle cx="570" cy="204.5" r="1.15"/><circle cx="572.5" cy="198" r="1.15"/><circle cx="572.5" cy="192" r="1.15"/><circle cx="572.5" cy="186" r="1.15"/><circle cx="568" cy="179.5" r="1.15"/><circle cx="561" cy="176" r="1.15"/></g>
 <ellipse cx="541.4" cy="201.4" rx="7.6" ry="11" transform="rotate(-15 541.4 201.4)" fill="none" stroke="#555" stroke-width="2.2"/>
 <ellipse cx="541.4" cy="201.4" rx="7.6" ry="11" transform="rotate(-15 541.4 201.4)" fill="none" stroke="#eee" stroke-width="0.6"/>
 <path d="M598.1 73.2 L593.3 76.0" stroke="#222" stroke-width="1.5" stroke-linecap="round"/><path d="M599.9 72.2 L597.1 73.8" stroke="#111" stroke-width="2.8" stroke-linecap="round"/><path d="M614.1 82.2 L609.3 84.9" stroke="#222" stroke-width="1.5" stroke-linecap="round"/><path d="M615.9 81.1 L613.1 82.7" stroke="#111" stroke-width="2.8" stroke-linecap="round"/><path d="M601.0 94.8 L596.2 97.5" stroke="#222" stroke-width="1.5" stroke-linecap="round"/><path d="M602.8 93.7 L600.0 95.3" stroke="#111" stroke-width="2.8" stroke-linecap="round"/><path d="M613.6 105.0 L608.8 107.8" stroke="#222" stroke-width="1.5" stroke-linecap="round"/><path d="M615.4 104.0 L612.6 105.6" stroke="#111" stroke-width="2.8" stroke-linecap="round"/><path d="M580.7 158.8 L575.9 161.5" stroke="#222" stroke-width="1.5" stroke-linecap="round"/><path d="M582.5 157.7 L579.7 159.3" stroke="#111" stroke-width="2.8" stroke-linecap="round"/><path d="M596.1 167.8 L591.3 170.6" stroke="#222" stroke-width="1.5" stroke-linecap="round"/><path d="M597.9 166.8 L595.1 168.4" stroke="#111" stroke-width="2.8" stroke-linecap="round"/><path d="M583.0 180.4 L578.2 183.2" stroke="#222" stroke-width="1.5" stroke-linecap="round"/><path d="M584.8 179.4 L582.0 181.0" stroke="#111" stroke-width="2.8" stroke-linecap="round"/><path d="M596.1 190.2 L591.3 192.9" stroke="#222" stroke-width="1.5" stroke-linecap="round"/><path d="M597.9 189.1 L595.1 190.7" stroke="#111" stroke-width="2.8" stroke-linecap="round"/>
</g>
<!-- RIGHT UNION 721 -->
<g id="runion" stroke-linejoin="round">
 <ellipse cx="607" cy="163.5" rx="6.8" ry="9.8" transform="rotate(-25 607 163.5)" fill="none" stroke="#222" stroke-width="1.5"/>
 <g transform="translate(625,152.5) rotate(-30)">
  <path d="M-7 -11 H5 A4.5 11 0 0 1 5 11 H-7 Z" fill="#fff" stroke="#222" stroke-width="1"/>
  <ellipse cx="-7" cy="0" rx="4.5" ry="11" fill="#fff" stroke="#222" stroke-width="1"/>
  <circle cx="-7.5" cy="-4" r="0.9" fill="#333"/><circle cx="-6.5" cy="4" r="0.9" fill="#333"/>
 </g>
 <g transform="translate(646,140.5) rotate(-30)">
  <path d="M-4 -15.2 H3.5 A6 15.2 0 0 1 3.5 15.2 H-4 Z" fill="#222" stroke="#111" stroke-width="0.8"/>
  <path d="M3.5 -13.8 A5.5 13.8 0 0 1 3.5 13.8" fill="none" stroke="#999" stroke-width="2.5" stroke-dasharray="0.8 1.2"/>
  <ellipse cx="-4" cy="0" rx="6" ry="15.2" fill="#fff" stroke="#111" stroke-width="1.3"/>
  <ellipse cx="-3.5" cy="0" rx="4.4" ry="12.4" fill="#fff" stroke="#222" stroke-width="0.9"/>
 </g>
 <g transform="translate(672,125) rotate(-30)">
  <path d="M-8 -8.5 H0 V-11.5 H8 A4.5 11.5 0 0 1 8 11.5 H0 V8.5 H-8 Z" fill="#fff" stroke="#222" stroke-width="1"/>
  <ellipse cx="-8" cy="0" rx="3.3" ry="8.5" fill="#fff" stroke="#222" stroke-width="1"/>
  <path d="M0 -11.5 A4.5 11.5 0 0 0 0 11.5" fill="none" stroke="#222" stroke-width="0.9"/>
 </g>
</g>

<!-- screw dashes right -->
<g class="dd">
<path d="M592.5 76.5 L577 85.5" style="stroke-dasharray:4 1.5 1 1.5"/><path d="M608.5 85.4 L593 94.3" style="stroke-dasharray:4 1.5 1 1.5"/><path d="M608 108.3 L594.5 116" style="stroke-dasharray:4 1.5 1 1.5"/>
<path d="M575 162 L561 170" style="stroke-dasharray:4 1.5 1 1.5"/><path d="M590.5 171 L576.5 179" style="stroke-dasharray:4 1.5 1 1.5"/><path d="M590.5 193.4 L577 201" style="stroke-dasharray:4 1.5 1 1.5"/>
<path d="M580 183 L684 123"/>
</g>
<!-- TUBES 182 -->
<g id="tubes" stroke-linejoin="round">
 <path d="M98.4 460 V489.5 A4.5 1.8 0 0 0 107.4 489.5 V460 Z" fill="#fff" stroke="#222" stroke-width="1"/>
 <ellipse cx="102.9" cy="460" rx="4.5" ry="1.8" fill="#fff" stroke="#222" stroke-width="1"/>
 <path d="M142.8 477.5 V506.5 A4.9 1.9 0 0 0 152.6 506.5 V477.5 Z" fill="#fff" stroke="#222" stroke-width="1"/>
 <ellipse cx="147.7" cy="477.5" rx="4.9" ry="1.9" fill="#fff" stroke="#222" stroke-width="1"/>
 <path d="M163.9 473.5 V484.5 A4 1.6 0 0 0 171.9 484.5 V473.5 Z" fill="#fff" stroke="#222" stroke-width="1"/>
 <ellipse cx="167.9" cy="473.5" rx="4" ry="1.6" fill="#fff" stroke="#222" stroke-width="1"/>
 <ellipse cx="167.9" cy="473.5" rx="2.2" ry="0.8" fill="#666"/>
</g>
<g class="dd">
 <path d="M103 425 V458 M103 491 V518"/>
 <path d="M147.7 446 V475 M147.7 509 V520"/>
 <path d="M167.9 486 V500 L158 510 M168 471 V458 L176 451"/>
</g>
<!-- BASE 894 -->
<g id="base" stroke-linejoin="round">
 <path d="M98 524 L109 523 L109.5 531 L120 523.5 L125 521 L142 517 L148.6 519.4 L158 529 L172 533 L175 537.5 L171 544 L158 551.5 L152.5 549.5 L152 561.5 Q148 565.5 143.5 564 L139.5 560.5 L122 557.5 L119.5 562.5 L84.5 573 Q80 574 78.5 570.5 L77.5 565.5 Q77.5 563 80 561.5 L100 550.5 L97.5 541 Z" fill="#fff" stroke="#222" stroke-width="1"/>
 <path d="M78.5 566 Q79.5 569 83 568.5 L116 558.5 L119.5 562.5 M116 558.5 L114 555.5 L100 550.5" fill="none" stroke="#222" stroke-width="0.9"/>
 <path d="M83.5 565 L99 556.5 L110.5 555.5 L112.5 558 L86.5 568 Z" fill="#fff" stroke="#222" stroke-width="0.8"/>
 <path d="M87.5 564.5 L92.5 562 L94 565 L89 567Z M95 561 L100 558.5 L101.5 561.5 L96.5 563.5Z M102.5 558 L107.5 556.5 L109 558.8 L104 560.5Z" fill="#333" stroke="#111" stroke-width="0.5"/>
 <path d="M89 565 l3 -1.3 M96.5 561.8 l3 -1.3 M104 558.6 l3 -1" stroke="#ddd" stroke-width="1"/>
 <path d="M114 555.5 Q117 554 119 556 L120 561" fill="none" stroke="#222" stroke-width="0.9"/>
 <path d="M101 549 l5 -2 l1 2 l-5 2z" fill="#333"/>
 <path d="M107 539 L124 526 L144 531.5 L142.5 547 L117 549.5 Z" fill="#fff" stroke="#222" stroke-width="0.9"/>
 <path d="M124 526 L121 533 L107 539 M121 533 L142.5 540" fill="none" stroke="#444" stroke-width="0.7"/>
 <path d="M144 531.5 L150 528 L158 530 M144 531.5 L152 536 L160 534 L171 537" fill="none" stroke="#333" stroke-width="0.8"/>
 <path d="M145.5 549 Q149 545.5 152.5 549.5 L152 561.5 M145.5 549 L143.5 564" fill="none" stroke="#222" stroke-width="0.9"/>
 <path d="M146 524 Q149 526 153 528 M147 521.5 l2.5 4 M150 523 l2.5 4 M152.5 525 l2.5 4" stroke="#222" stroke-width="1.1" fill="none"/>
 <path d="M156 540 q3 -2 5 1 M163 537 q3 -2 5 1" fill="none" stroke="#333" stroke-width="0.8"/>
 <circle cx="130" cy="523.5" r="1.2" class="pn"/><circle cx="139" cy="520.5" r="1.2" class="pn"/><circle cx="168" cy="539.5" r="1.2" class="pn"/><circle cx="120" cy="547" r="1" class="pn"/>
 <path d="M97.5 523 Q98 519.5 103 519.5 Q109 519.5 109.5 523 L109.5 531 Q104 535 98 532 Z" fill="#fff" stroke="#222" stroke-width="1"/>
 <path d="M98.5 525.5 Q103 522.5 108.5 525" fill="none" stroke="#333" stroke-width="0.8"/><path d="M100 525 L103.5 531 L107 525" fill="none" stroke="#333" stroke-width="0.8"/>
</g>
<!-- CAPSULE -->
<g id="capsule">
 <rect x="63.4" y="498.9" width="23.4" height="45.8" rx="11.7" fill="none" stroke="#444" stroke-width="0.9" stroke-dasharray="6 2 1.5 2"/>
 <path d="M71.5 504 L78 502.5 L79 505 L72.5 506.5Z" fill="#fff" stroke="#333" stroke-width="0.8"/>
 <path d="M71 512 L78 510 L80 512.5 L73 514.5Z" fill="#333" stroke="#111" stroke-width="0.8"/>
 <path d="M71 518 L78 516 L80 518.5 L73 520.5Z" fill="#333" stroke="#111" stroke-width="0.8"/>
 <path d="M70 524 L76 521.5 L80 523 L82.3 539 L76 542 L68.4 539 Z" fill="#fff" stroke="#222" stroke-width="1"/>
 <path d="M70 524 L74 526.5 L76 542 M74 526.5 L80 523" fill="none" stroke="#222" stroke-width="0.8"/>
 <path d="M84.6 531.3 L92.4 526.3 V545" fill="none" stroke="#444" stroke-width="0.9" stroke-dasharray="3 1.5"/>
</g>
<!-- axis overlays -->
<g class="dd">
<path d="M104 435.6 L158 404.7"/>
<path d="M396 268.9 L432 248.4"/>
</g>
<!-- LEADER LINES -->
<g id="leaders" class="ld">
<path d="M230 15H287"/>
<path d="M230 63H287"/>
<path d="M481 49.3H510.5"/>
<path d="M477 71.3H510.5"/>
<path d="M458.6 95.7H509.5"/>
<path d="M474.8 132.5L498.8 117.3H510"/>
<path d="M657.6 150V212.7"/>
<path d="M682 134.6V201.6"/>
<path d="M541 205V280"/>
<path d="M491 233.4V280L516.4 265.8V294.8"/>
<path d="M482 236.8V308"/>
<path d="M459 265V328"/>
<path d="M189.8 286.8V348.6"/>
<path d="M157 304.8V364"/>
<path d="M308.5 217.4L329.2 249.8"/>
<path d="M278 236.4L296.9 264.3"/>
<path d="M378.2 375L364 345.4"/>
<path d="M272.3 359.4V380.2L307.8 401.3V415.5"/>
<path d="M229.4 367.6V388.7L246.7 380.2V360.3"/>
<path d="M238 364.9V397.3L274.2 418.1V433.4"/>
<path d="M172 482.6H204.3"/>
<path d="M152.6 504.8H204"/>
<path d="M155 527.9H203"/>
<path d="M297.6 124V147.7H347.3V124M322.6 147.7V155.3"/>
</g>
</svg>
</body></html>
